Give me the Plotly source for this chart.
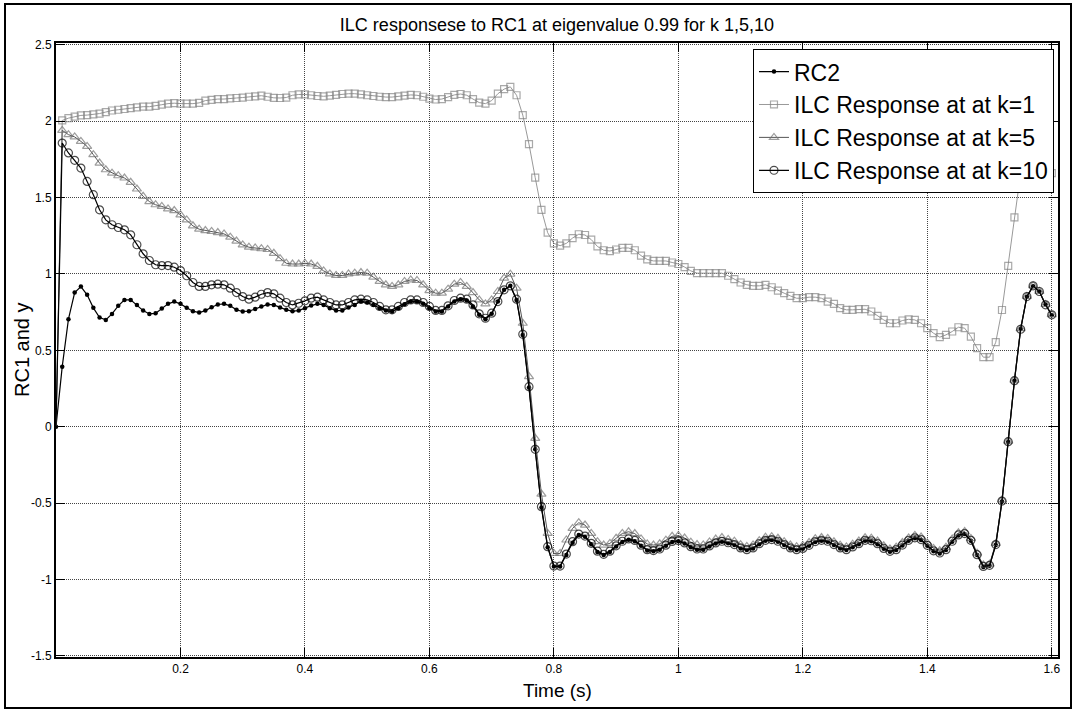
import plotly.graph_objects as go

# ---- data ----
time_s = [round(i * 0.01, 2) for i in range(161)]

rc2 = [0.0, 0.393, 0.704, 0.878, 0.917, 0.863, 0.778, 0.714, 0.699, 0.738,
       0.791, 0.830, 0.830, 0.797, 0.760, 0.738, 0.742, 0.773, 0.804, 0.819,
       0.804, 0.778, 0.756, 0.747, 0.760, 0.782, 0.800, 0.804, 0.791, 0.765,
       0.754, 0.756, 0.771, 0.787, 0.800, 0.797, 0.780, 0.765, 0.756, 0.760,
       0.776, 0.793, 0.804, 0.797, 0.776, 0.760, 0.760, 0.780, 0.797, 0.819,
       0.813, 0.797, 0.776, 0.760, 0.754, 0.776, 0.802, 0.819, 0.819, 0.804,
       0.776, 0.754, 0.754, 0.787, 0.819, 0.835, 0.826, 0.787, 0.732, 0.704,
       0.739, 0.819, 0.896, 0.922, 0.830, 0.601, 0.256, -0.148, -0.53, -0.79,
       -0.915, -0.915, -0.84, -0.76, -0.71, -0.72, -0.77, -0.82, -0.84, -0.82,
       -0.785, -0.755, -0.74, -0.75, -0.78, -0.81, -0.815, -0.805, -0.78, -0.755,
       -0.75, -0.765, -0.79, -0.805, -0.805, -0.785, -0.765, -0.753, -0.764, -0.775,
       -0.797, -0.808, -0.797, -0.769, -0.747, -0.742, -0.753, -0.775, -0.797, -0.808,
       -0.80, -0.78, -0.755, -0.747, -0.753, -0.775, -0.797, -0.808, -0.79, -0.769,
       -0.747, -0.75, -0.769, -0.80, -0.819, -0.808, -0.778, -0.747, -0.731, -0.742,
       -0.78, -0.816, -0.830, -0.808, -0.753, -0.712, -0.703, -0.747, -0.841, -0.918,
       -0.911, -0.775, -0.49, -0.10, 0.30, 0.64, 0.85, 0.92, 0.885, 0.80,
       0.73]

ilc_k1 = [0.0, 2.005, 2.02, 2.03, 2.038, 2.04, 2.045, 2.05, 2.06, 2.07,
          2.075, 2.08, 2.085, 2.09, 2.095, 2.095, 2.10, 2.108, 2.115, 2.118,
          2.115, 2.115, 2.115, 2.12, 2.135, 2.14, 2.145, 2.145, 2.15, 2.152,
          2.155, 2.16, 2.163, 2.167, 2.16, 2.153, 2.152, 2.155, 2.17, 2.175,
          2.175, 2.17, 2.165, 2.163, 2.167, 2.172, 2.178, 2.18, 2.18, 2.175,
          2.17, 2.165, 2.16, 2.158, 2.158, 2.162, 2.168, 2.172, 2.17, 2.16,
          2.148, 2.142, 2.145, 2.158, 2.172, 2.178, 2.17, 2.145, 2.122, 2.115,
          2.135, 2.18, 2.21, 2.225, 2.17, 2.04, 1.85, 1.63, 1.42, 1.27,
          1.20, 1.185, 1.20, 1.235, 1.26, 1.255, 1.225, 1.18, 1.155, 1.15,
          1.16, 1.17, 1.17, 1.155, 1.12, 1.095, 1.085, 1.085, 1.085, 1.075,
          1.065, 1.045, 1.02, 1.005, 1.005, 1.005, 1.005, 1.005, 0.988, 0.966,
          0.944, 0.929, 0.922, 0.922, 0.929, 0.913, 0.891, 0.874, 0.856, 0.841,
          0.841, 0.848, 0.848, 0.841, 0.819, 0.804, 0.776, 0.765, 0.765, 0.769,
          0.769, 0.754, 0.725, 0.699, 0.677, 0.677, 0.695, 0.703, 0.699, 0.677,
          0.645, 0.612, 0.586, 0.601, 0.623, 0.651, 0.645, 0.590, 0.514, 0.455,
          0.455, 0.553, 0.764, 1.053, 1.37, 1.66, 1.84, 1.90, 1.85, 1.76,
          1.66]

ilc_k5 = [0.0, 1.940, 1.912, 1.897, 1.868, 1.835, 1.781, 1.726, 1.682, 1.660,
          1.643, 1.628, 1.600, 1.556, 1.508, 1.474, 1.453, 1.442, 1.426, 1.415,
          1.387, 1.354, 1.315, 1.293, 1.284, 1.278, 1.271, 1.262, 1.241, 1.215,
          1.19, 1.175, 1.17, 1.165, 1.16, 1.135, 1.10, 1.07, 1.065, 1.065,
          1.07, 1.065, 1.05, 1.02, 1.00, 0.99, 0.99, 1.00, 1.005, 1.009,
          1.005, 0.979, 0.951, 0.929, 0.918, 0.929, 0.951, 0.961, 0.957, 0.929,
          0.891, 0.874, 0.874, 0.900, 0.933, 0.944, 0.918, 0.878, 0.830, 0.804,
          0.830, 0.885, 0.972, 0.998, 0.907, 0.677, 0.328, -0.076, -0.441, -0.699,
          -0.830, -0.830, -0.742, -0.666, -0.629, -0.644, -0.699, -0.753, -0.775, -0.764,
          -0.731, -0.699, -0.688, -0.70, -0.735, -0.768, -0.775, -0.767, -0.743, -0.718,
          -0.713, -0.729, -0.756, -0.772, -0.774, -0.755, -0.736, -0.726, -0.738, -0.75,
          -0.773, -0.784, -0.774, -0.746, -0.724, -0.72, -0.731, -0.753, -0.775, -0.786,
          -0.778, -0.758, -0.733, -0.726, -0.732, -0.754, -0.776, -0.787, -0.769, -0.749,
          -0.727, -0.73, -0.749, -0.78, -0.80, -0.789, -0.759, -0.728, -0.712, -0.723,
          -0.761, -0.797, -0.812, -0.79, -0.736, -0.695, -0.687, -0.732, -0.828, -0.905,
          -0.90, -0.765, -0.48, -0.094, 0.304, 0.642, 0.853, 0.923, 0.886, 0.80,
          0.733]

ilc_k10 = [0.0, 1.857, 1.792, 1.744, 1.693, 1.606, 1.519, 1.420, 1.354, 1.322,
           1.304, 1.289, 1.256, 1.191, 1.132, 1.088, 1.060, 1.055, 1.055, 1.044,
           1.022, 0.988, 0.944, 0.918, 0.918, 0.929, 0.933, 0.929, 0.907, 0.878,
           0.852, 0.835, 0.848, 0.867, 0.878, 0.870, 0.841, 0.813, 0.797, 0.808,
           0.824, 0.841, 0.848, 0.830, 0.813, 0.797, 0.797, 0.813, 0.830, 0.835,
           0.830, 0.813, 0.787, 0.765, 0.765, 0.787, 0.813, 0.830, 0.830, 0.813,
           0.787, 0.761, 0.761, 0.791, 0.826, 0.841, 0.835, 0.797, 0.739, 0.710,
           0.743, 0.819, 0.896, 0.922, 0.835, 0.605, 0.262, -0.148, -0.524, -0.786,
           -0.913, -0.913, -0.834, -0.753, -0.703, -0.716, -0.764, -0.815, -0.836, -0.815,
           -0.78, -0.75, -0.735, -0.745, -0.776, -0.805, -0.811, -0.801, -0.776, -0.751,
           -0.746, -0.761, -0.786, -0.801, -0.801, -0.781, -0.761, -0.75, -0.76, -0.772,
           -0.794, -0.805, -0.794, -0.766, -0.744, -0.739, -0.75, -0.772, -0.794, -0.805,
           -0.797, -0.777, -0.752, -0.744, -0.75, -0.772, -0.794, -0.805, -0.787, -0.766,
           -0.744, -0.747, -0.766, -0.797, -0.816, -0.805, -0.775, -0.744, -0.728, -0.739,
           -0.777, -0.813, -0.827, -0.805, -0.75, -0.709, -0.70, -0.744, -0.838, -0.915,
           -0.908, -0.772, -0.487, -0.098, 0.301, 0.638, 0.852, 0.922, 0.885, 0.798,
           0.732]

x_tick_vals = [0.2, 0.4, 0.6, 0.8, 1.0, 1.2, 1.4, 1.6]
x_tick_text = ["0.2", "0.4", "0.6", "0.8", "1", "1.2", "1.4", "1.6"]
y_tick_vals = [-1.5, -1.0, -0.5, 0.0, 0.5, 1.0, 1.5, 2.0, 2.5]
y_tick_text = ["-1.5", "-1", "-0.5", "0", "0.5", "1", "1.5", "2", "2.5"]

FONT = "Liberation Sans, Arial, sans-serif"

n = len(time_s)


def sizes(s):
    # no marker drawn on the initial (t = 0) sample of the ILC responses
    return [0] + [s] * (n - 1)


fig = go.Figure()
fig.add_trace(go.Scatter(
    x=time_s, y=rc2, name="RC2", mode="lines+markers",
    line=dict(color="black", width=1.2),
    marker=dict(symbol="circle", size=4.5, color="black")))
fig.add_trace(go.Scatter(
    x=time_s, y=ilc_k1, name="ILC Response at at k=1", mode="lines+markers",
    line=dict(color="#999999", width=1),
    marker=dict(symbol="square-open", size=sizes(7), color="#858585", line=dict(width=1.2))))
fig.add_trace(go.Scatter(
    x=time_s, y=ilc_k5, name="ILC Response at at k=5", mode="lines+markers",
    line=dict(color="#555555", width=1),
    marker=dict(symbol="triangle-up-open", size=sizes(8), color="#747474", line=dict(width=1.2))))
fig.add_trace(go.Scatter(
    x=time_s, y=ilc_k10, name="ILC Response at at k=10", mode="lines+markers",
    line=dict(color="black", width=1.2),
    marker=dict(symbol="circle-open", size=sizes(8), color="black", line=dict(width=1.2))))

axis_common = dict(
    showline=True, linecolor="black", linewidth=2, mirror="ticks",
    ticks="inside", ticklen=9, tickcolor="black", tickwidth=1,
    showgrid=True, gridcolor="#444444", griddash="1px,1px", gridwidth=1,
    zeroline=False, tickfont=dict(family=FONT, size=12, color="black"),
)

fig.update_layout(
    width=1076, height=711,
    margin=dict(l=56, r=18, t=43, b=54),
    paper_bgcolor="white", plot_bgcolor="white",
    font=dict(family=FONT, color="black"),
    title=dict(text="ILC responsese to RC1 at eigenvalue 0.99 for k 1,5,10",
               x=0.5, xref="paper", y=1 - 25 / 711, yref="container",
               xanchor="center", yanchor="middle",
               font=dict(family=FONT, size=18, color="black")),
    xaxis=dict(range=[0.0, 1.61], tickvals=x_tick_vals, ticktext=x_tick_text, **axis_common),
    yaxis=dict(range=[-1.508, 2.512], tickvals=y_tick_vals, ticktext=y_tick_text, **axis_common),
    showlegend=True,
    legend=dict(x=0.996, y=0.990, xanchor="right", yanchor="top",
                bgcolor="white", bordercolor="black", borderwidth=1,
                font=dict(family=FONT, size=23, color="black"),
                itemwidth=30, tracegroupgap=0),
    annotations=[
        dict(text="Time (s)", xref="paper", yref="paper", x=0.5, y=(657 - 690) / 614,
             xanchor="center", yanchor="middle", showarrow=False,
             font=dict(family=FONT, size=19, color="black")),
        dict(text="RC1 and y", xref="paper", yref="paper", x=(22 - 56) / 1002, y=0.5,
             xanchor="center", yanchor="middle", showarrow=False, textangle=-90,
             font=dict(family=FONT, size=20, color="black")),
    ],
    shapes=[
        dict(type="rect", xref="paper", yref="paper",
             x0=(5 - 56) / 1002, x1=(1071 - 56) / 1002,
             y0=(657 - 708) / 614, y1=(657 - 4) / 614,
             line=dict(color="black", width=2), fillcolor="rgba(0,0,0,0)", layer="below"),
    ],
)

fig.write_html("out.html",
               config={"displayModeBar": False},
               post_script="document.body.style.margin='0px';document.body.style.padding='0px';")
